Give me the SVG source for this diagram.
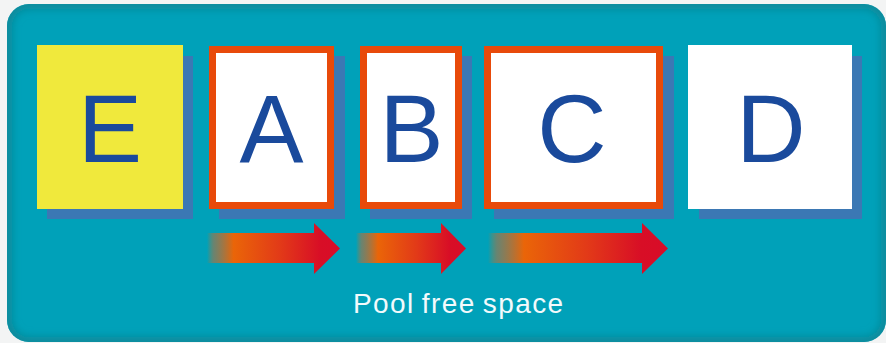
<svg xmlns="http://www.w3.org/2000/svg" width="886" height="343" viewBox="0 0 886 343">
<defs>
<clipPath id="bgclip"><rect x="7" y="4" width="879" height="338" rx="22" ry="22"/></clipPath>
<filter id="blur" x="-5%" y="-5%" width="110%" height="110%"><feGaussianBlur stdDeviation="4"/></filter>
<linearGradient id="arrowGrad" x1="0" y1="0" x2="1" y2="0">
<stop offset="0" stop-color="#e86a0a" stop-opacity="0"/>
<stop offset="0.05" stop-color="#b07040" stop-opacity="0.6"/>
<stop offset="0.2" stop-color="#ea6508"/>
<stop offset="0.55" stop-color="#e23a18"/>
<stop offset="0.85" stop-color="#d80e26"/>
<stop offset="1" stop-color="#d80c28"/>
</linearGradient>
<style>
.shadow{fill:#3b78b4}
.white{fill:#ffffff}
.framed{fill:#ffffff;stroke:#e84a0a;stroke-width:7}
.letter{font-family:"Liberation Sans",Arial,sans-serif;font-size:96px;fill:#1a4a9c;text-anchor:middle}
.label{font-family:"Liberation Sans",Arial,sans-serif;font-size:28px;fill:#f2fafc;letter-spacing:1.4px;word-spacing:-2px}
.arrow{fill:url(#arrowGrad)}
</style>
</defs>
<rect x="0" y="0" width="886" height="343" fill="#f3f4f4"/>
<g id="background" clip-path="url(#bgclip)">
<rect x="7" y="4" width="879" height="338" fill="#00a1b9"/>
<rect x="7" y="4" width="879" height="338" rx="22" ry="22" fill="none" stroke="#0b8797" stroke-width="10" filter="url(#blur)"/>
</g>
<g id="node-E">
<rect class="shadow" x="47" y="56" width="146" height="163"/>
<rect x="37" y="45" width="146" height="164" fill="#f0e93c"/>
<text class="letter" x="110" y="162">E</text>
</g>
<g id="node-A">
<rect class="shadow" x="219" y="56" width="126" height="163"/>
<rect class="framed" x="212.5" y="49.5" width="118" height="156"/>
<text class="letter" x="271.5" y="162">A</text>
</g>
<g id="node-B">
<rect class="shadow" x="370" y="56" width="102" height="163"/>
<rect class="framed" x="363.5" y="49.5" width="95" height="156"/>
<text class="letter" x="411.5" y="162">B</text>
</g>
<g id="node-C">
<rect class="shadow" x="494" y="56" width="180" height="163"/>
<rect class="framed" x="487.5" y="49.5" width="172" height="156"/>
<text class="letter" x="572" y="162">C</text>
</g>
<g id="node-D">
<rect class="shadow" x="699" y="56" width="163" height="163"/>
<rect class="white" x="688" y="45" width="164" height="164"/>
<text class="letter" x="771" y="162">D</text>
</g>
<g id="connectors">
<path class="arrow" d="M207,233 H314 V223 L340,248.5 L314,274 V263 H207 Z"/>
<path class="arrow" d="M356,233 H441 V223 L466,248.5 L441,274 V263 H356 Z"/>
<path class="arrow" d="M488,233 H642 V223 L668,248.5 L642,274 V263 H488 Z"/>
</g>
<g id="caption">
<text class="label" x="353" y="313">Pool free space</text>
</g>
</svg>
